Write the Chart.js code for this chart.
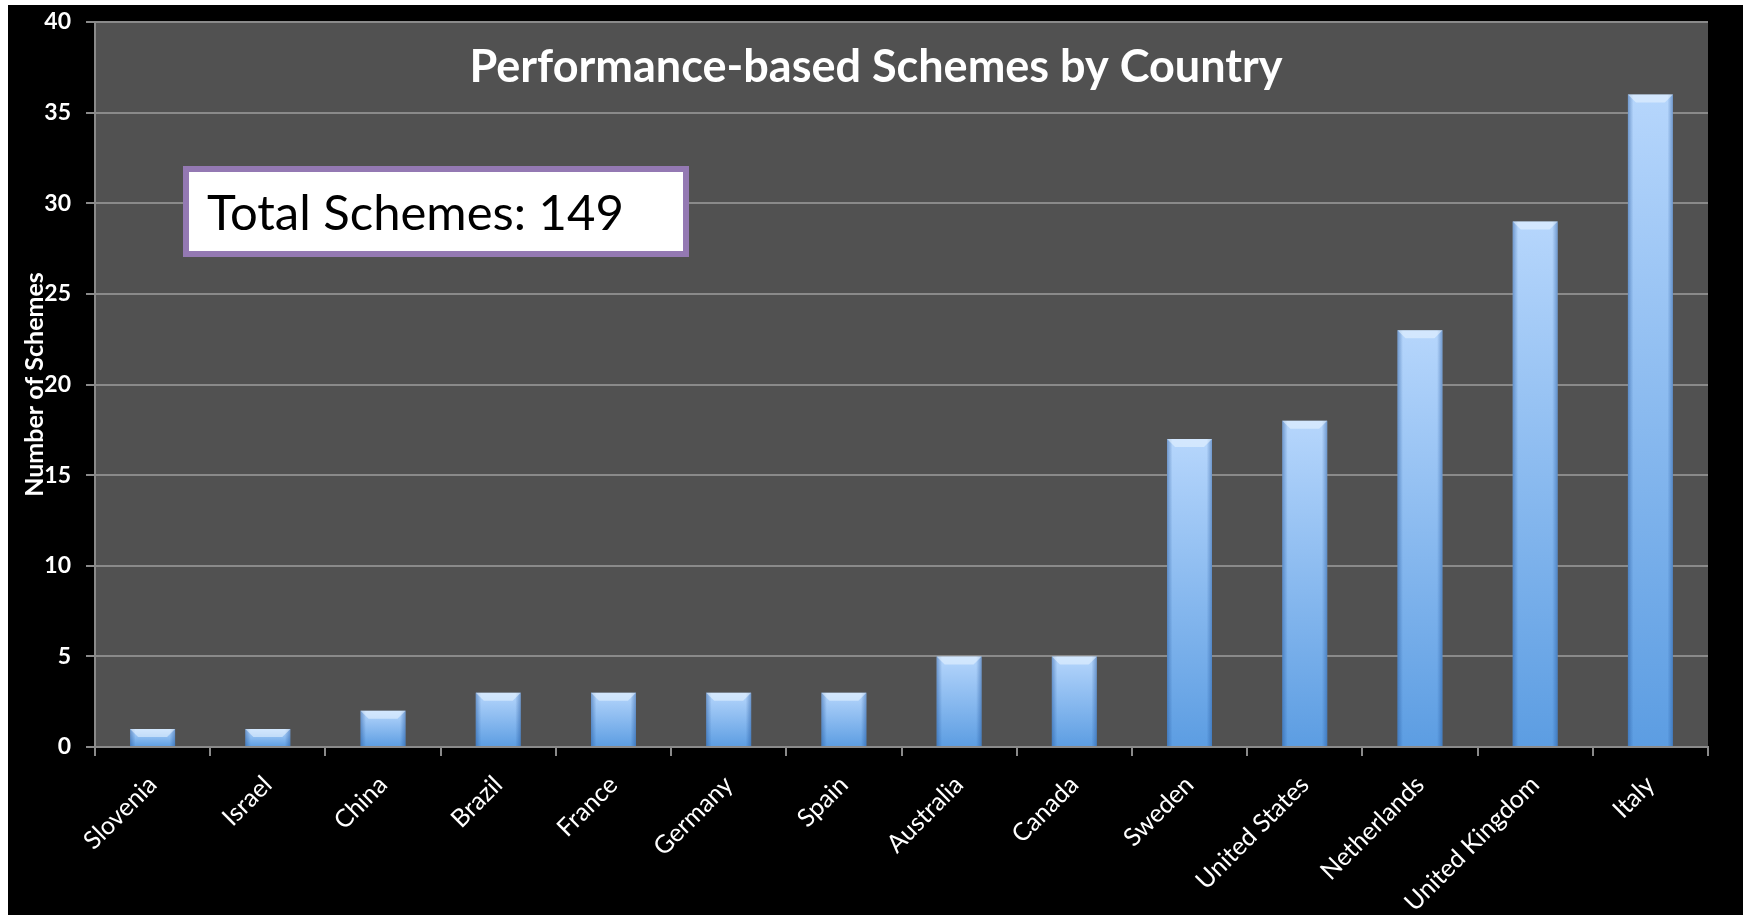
<!DOCTYPE html>
<html>
<head>
<meta charset="utf-8">
<script src="https://cdn.jsdelivr.net/npm/chart.js@4.4.1/dist/chart.umd.min.js"></script>
<style>
  html, body { margin: 0; padding: 0; background: #fff; }
  #wrap { position: absolute; left: 8px; top: 5px; width: 1735px; height: 910px; }
</style>
</head>
<body>
<div id="wrap"><canvas id="schemes"></canvas></div>
<script>
const countries = ['Slovenia', 'Israel', 'China', 'Brazil', 'France', 'Germany', 'Spain',
  'Australia', 'Canada', 'Sweden', 'United States', 'Netherlands', 'United Kingdom', 'Italy'];
const schemes = [1, 1, 2, 3, 3, 3, 3, 5, 5, 17, 18, 23, 29, 36];
const yTicks = [0, 5, 10, 15, 20, 25, 30, 35, 40];
const chartTitle = 'Performance-based Schemes by Country';
const totalLabel = 'Total Schemes: ' + schemes.reduce((a, b) => a + b, 0);

const canvas = document.getElementById('schemes');

// black page + grey plot area
const backdrop = {
  id: 'backdrop',
  beforeDraw(chart) {
    const c = chart.ctx, a = chart.chartArea;
    c.save();
    c.fillStyle = '#000';
    c.fillRect(0, 0, chart.width, chart.height);
    c.fillStyle = '#515151';
    c.fillRect(a.left, a.top, a.right - a.left, a.bottom - a.top);
    c.restore();
  }
};

// side shading and bevel on each bar, using the bar elements' own positions
const bevel = {
  id: 'bevel',
  afterDatasetsDraw(chart) {
    const c = chart.ctx;
    chart.getDatasetMeta(0).data.forEach(bar => {
      const l = bar.x - bar.width / 2, r = bar.x + bar.width / 2;
      const t = bar.y, b = bar.base;
      c.save();
      const side = c.createLinearGradient(l, 0, r, 0);
      side.addColorStop(0, 'rgba(30,80,150,0.45)');
      side.addColorStop(0.12, 'rgba(30,80,150,0)');
      side.addColorStop(0.88, 'rgba(30,80,150,0)');
      side.addColorStop(1, 'rgba(30,80,150,0.45)');
      c.fillStyle = side;
      c.fillRect(l, t, r - l, b - t);
      const h = Math.min(8, (b - t) / 2);
      c.beginPath();
      c.moveTo(l, t);
      c.lineTo(r, t);
      c.lineTo(r - h, t + h);
      c.lineTo(l + h, t + h);
      c.closePath();
      c.fillStyle = 'rgba(235,245,255,0.55)';
      c.fill();
      c.restore();
    });
  }
};

// title and the total box sit inside the plot area
const labels = {
  id: 'labels',
  afterDraw(chart) {
    const c = chart.ctx;
    c.save();
    c.fillStyle = '#fff';
    c.font = 'bold 45px Lato';
    c.textAlign = 'center';
    c.textBaseline = 'alphabetic';
    c.fillText(chartTitle, 868, 77);

    c.fillStyle = '#fff';
    c.fillRect(178, 164, 500, 85);
    c.strokeStyle = '#9479b3';
    c.lineWidth = 6;
    c.strokeRect(178, 164, 500, 85);
    c.fillStyle = '#000';
    c.font = '49px Lato';
    c.textAlign = 'left';
    c.textBaseline = 'middle';
    c.fillText(totalLabel, 199, 209);
    c.restore();
  }
};

new Chart(canvas, {
  type: 'bar',
  data: {
    labels: countries,
    datasets: [{
      label: 'Number of Schemes',
      data: schemes,
      backgroundColor: ctx => {
        const chart = ctx.chart;
        if (!chart.chartArea) return '#8fbff5';
        const y = chart.scales.y;
        const top = y.getPixelForValue(ctx.raw);
        const bot = y.getPixelForValue(0);
        const g = chart.ctx.createLinearGradient(0, top, 0, bot);
        g.addColorStop(0, '#b6d6fc');
        g.addColorStop(1, '#5c9de2');
        return g;
      },
      borderWidth: 0,
      categoryPercentage: 1,
      barPercentage: 0.39
    }]
  },
  options: {
    responsive: true,
    maintainAspectRatio: false,
    animation: false,
    layout: { padding: { top: 17, right: 35, left: 0, bottom: 0 } },
    plugins: {
      legend: { display: false },
      tooltip: { enabled: false }
    },
    scales: {
      x: {
        afterFit: s => { s.height = 168; },
        grid: { drawOnChartArea: false, drawTicks: true, tickLength: 9, color: '#8a8a8a', lineWidth: 2 },
        border: { color: '#8a8a8a', width: 2 },
        ticks: {
          color: '#fff',
          font: { family: 'Lato', size: 25 },
          maxRotation: 45,
          minRotation: 45,
          autoSkip: false,
          padding: 14
        }
      },
      y: {
        min: 0,
        max: 40,
        afterFit: s => { s.width = 87; s.paddingTop = 0; s.paddingBottom = 0; },
        afterBuildTicks: s => { s.ticks = yTicks.map(v => ({ value: v })); },
        grid: { color: '#8a8a8a', lineWidth: 2, drawTicks: true, tickLength: 9 },
        border: { color: '#8a8a8a', width: 2 },
        ticks: {
          color: '#fff',
          font: { family: 'Lato', size: 23, weight: 'bold' },
          padding: 15
        },
        title: {
          display: true,
          text: 'Number of Schemes',
          color: '#fff',
          font: { family: 'Lato', size: 25, weight: 'bold' },
          padding: { top: 12, bottom: 0 }
        }
      }
    }
  },
  plugins: [backdrop, bevel, labels]
});
</script>
</body>
</html>
